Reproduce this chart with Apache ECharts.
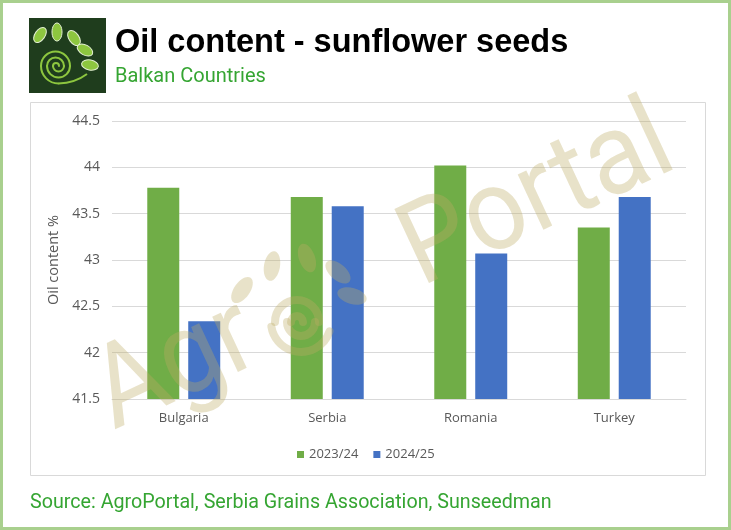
<!DOCTYPE html>
<html>
<head>
<meta charset="utf-8">
<script src="https://cdn.jsdelivr.net/npm/echarts@6/dist/echarts.min.js"></script>
<style>html,body{margin:0;padding:0;background:#fff;}#c{width:731px;height:530px;}</style>
</head>
<body>
<div id="c"></div>
<script>
var categories = ['Bulgaria', 'Serbia', 'Romania', 'Turkey'];
var seriesNames = ['2023/24', '2024/25'];
var values2023 = [43.78, 43.68, 44.02, 43.35];
var values2024 = [42.34, 43.58, 43.07, 43.68];
var yTicks = { min: 41.5, max: 44.5, interval: 0.5 };
var titleText = 'Oil content - sunflower seeds';
var subtitleText = 'Balkan Countries';
var sourceText = 'Source: AgroPortal, Serbia Grains Association, Sunseedman';
var yAxisTitle = 'Oil content %';

var chart = echarts.init(document.getElementById('c'), null, { renderer: 'canvas' });

var LG = '#8dc63f';
var WM = 'rgba(190,172,100,0.35)';
var PI = Math.PI;
var WZ = 50;
function leaf(x, y, rotDeg, rx, ry, fill, stroke, z) {
  return {
    type: 'group', x: x, y: y, rotation: -rotDeg * PI / 180,
    children: [{ type: 'ellipse', z: z || 0, shape: { cx: 0, cy: 0, rx: rx, ry: ry },
      style: stroke ? { fill: fill, stroke: stroke, lineWidth: 1 } : { fill: fill } }]
  };
}
function arcSeg(cx, cy, r, s, e, color, w, z) {
  return { type: 'arc', z: z || 0, shape: { cx: cx, cy: cy, r: r, startAngle: s, endAngle: e, clockwise: true },
    style: { stroke: color, lineWidth: w, fill: 'none', lineCap: 'round' } };
}

var option = {
  backgroundColor: '#ffffff',
  animation: false,
  textStyle: { fontFamily: 'Open Sans' },
  grid: { left: 112, top: 121, width: 574, height: 278, containLabel: false },
  legend: {
    data: seriesNames, left: 292, top: 443,
    itemWidth: 7, itemHeight: 7, itemGap: 15,
    icon: 'rect',
    textStyle: { color: '#595959', fontSize: 13, fontFamily: 'Open Sans' }
  },
  xAxis: {
    type: 'category', data: categories,
    axisLine: { show: true, lineStyle: { color: '#d9d9d9' } },
    axisTick: { show: false },
    axisLabel: { color: '#595959', fontSize: 13, margin: 13, fontFamily: 'Open Sans' }
  },
  yAxis: {
    type: 'value', min: yTicks.min, max: yTicks.max, interval: yTicks.interval,
    name: yAxisTitle, nameLocation: 'middle', nameGap: 45, nameRotate: 90,
    nameTextStyle: { color: '#595959', fontSize: 14.5, fontFamily: 'Open Sans' },
    axisLine: { show: false }, axisTick: { show: false },
    axisLabel: { color: '#595959', fontSize: 14, margin: 12, fontFamily: 'Open Sans' },
    splitLine: { lineStyle: { color: '#d9d9d9', width: 1 } }
  },
  series: [
    { name: seriesNames[0], type: 'bar', data: values2023, barWidth: 32, barGap: '28%',
      itemStyle: { color: '#70ad47' } },
    { name: seriesNames[1], type: 'bar', data: values2024, barWidth: 32, barGap: '28%',
      itemStyle: { color: '#4472c4' } }
  ],
  graphic: [
    { type: 'rect', z: 100, silent: true,
      shape: { x: 1.5, y: 1.5, width: 728, height: 527 },
      style: { fill: 'none', stroke: '#a9d08e', lineWidth: 3 } },
    { type: 'rect', z: -1, silent: true,
      shape: { x: 30.5, y: 102.5, width: 675, height: 373 },
      style: { fill: 'none', stroke: '#d9d9d9', lineWidth: 1 } },
    { type: 'group', x: 29, y: 18, children: [
      { type: 'rect', shape: { x: 0, y: 0, width: 77, height: 75 }, style: { fill: '#1f3d1d' } },
      leaf(11, 17, 35, 5, 8.5, LG, '#e3f0d3', 1),
      leaf(28, 14, 0, 5, 9, LG, '#e3f0d3', 1),
      leaf(45, 20, -35, 5, 8.5, LG, '#e3f0d3', 1),
      leaf(56, 32, -60, 5, 8.5, LG, '#e3f0d3', 1),
      leaf(61, 47, -80, 5, 8.5, LG, '#e3f0d3', 1),
      arcSeg(27, 48, 3, PI, 2 * PI, LG, 2, 1),
      arcSeg(29.5, 48, 5.5, 0, PI, LG, 2, 1),
      arcSeg(26.5, 48, 8.5, PI, 2 * PI, LG, 2, 1),
      arcSeg(29.5, 48, 11.5, 0, PI, LG, 2, 1),
      arcSeg(26.5, 48, 14.5, PI, 2 * PI, LG, 2, 1),
      arcSeg(29.5, 48, 17.5, PI / 2, PI, LG, 2, 1),
      { type: 'bezierCurve', z: 1, shape: { x1: 29.5, y1: 65.5, x2: 58, y2: 56, cpx1: 46, cpy1: 65 },
        style: { stroke: LG, lineWidth: 2, fill: 'none' } }
    ]},
    { type: 'text', x: 115, y: 60, style: { text: titleText, fill: '#000000',
      font: 'bold 32.5px "Liberation Sans", Arial, sans-serif', textVerticalAlign: 'bottom' } },
    { type: 'text', x: 115, y: 87, style: { text: subtitleText, fill: '#35a532',
      font: '20px Roboto, sans-serif', textVerticalAlign: 'bottom' } },
    { type: 'text', x: 30, y: 513, style: { text: sourceText, fill: '#35a532',
      font: '19.7px Roboto, sans-serif', textVerticalAlign: 'bottom' } },
    // watermark
    { type: 'group', x: 423, y: 291, rotation: 25 * PI / 180, silent: true, children: [
      { type: 'text', z: WZ, x: 0, y: 24, scaleX: 0.93, style: { text: 'Portal', fill: WM,
        font: '115px Roboto, sans-serif', textVerticalAlign: 'bottom', textAlign: 'left' } },
      { type: 'text', z: WZ, x: -173, y: 24, scaleX: 0.93, style: { text: 'Agr', fill: WM,
        font: '115px Roboto, sans-serif', textVerticalAlign: 'bottom', textAlign: 'right' } }
    ]},
    { type: 'group', x: 0, y: 0, silent: true, children: [
      arcSeg(297, 322, 6, PI, 2 * PI, WM, 8, WZ),
      arcSeg(301, 322, 14, 0, PI, WM, 8, WZ),
      arcSeg(297, 322, 22, PI, 2 * PI, WM, 8, WZ),
      arcSeg(301, 322, 30, 0.1 * PI, 0.95 * PI, WM, 8, WZ),
      leaf(242, 290, 35, 8, 15, WM, null, WZ),
      leaf(272, 266, 10, 8, 15, WM, null, WZ),
      leaf(307, 258, -20, 8, 15, WM, null, WZ),
      leaf(338, 272, -50, 8, 15, WM, null, WZ),
      leaf(352, 296, -75, 8, 15, WM, null, WZ)
    ]}
  ]
};
chart.setOption(option);
</script>
</body>
</html>
